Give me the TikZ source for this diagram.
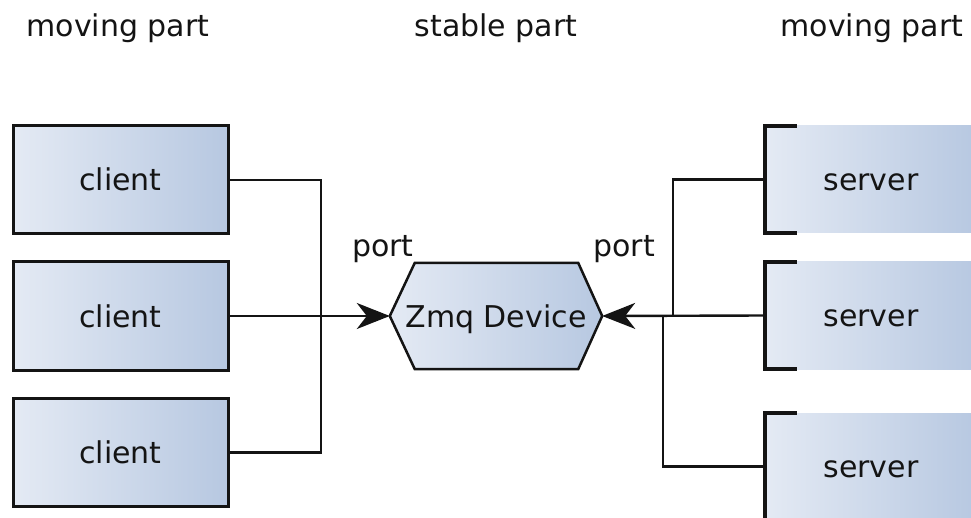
\documentclass[tikz,border=0pt]{standalone}
\usepackage{fontspec}
\setmainfont{DejaVu Sans}
\usetikzlibrary{arrows.meta,calc}
\definecolor{boxlight}{RGB}{228,234,244}
\definecolor{boxdark}{RGB}{183,200,225}
\definecolor{ink}{RGB}{20,20,20}
\begin{document}
\begin{tikzpicture}[x=1pt,y=-1pt,
  every node/.style={font=\fontsize{30}{35}\selectfont, text=ink},
  lbl/.style={anchor=base, inner sep=0pt},
  clientbox/.style={draw=ink, line width=3pt, left color=boxlight, right color=boxdark,
     minimum width=215pt, minimum height=108pt, inner sep=0pt, text height=22pt, text depth=0pt},
  serverbox/.style={left color=boxlight, right color=boxdark,
     minimum width=212pt, minimum height=107pt, inner sep=0pt, text height=22pt, text depth=0pt},
  devbox/.style={minimum width=212pt, minimum height=106pt, inner sep=0pt, text height=22pt, text depth=0pt},
  bracket/.style={draw=ink, line width=4.5pt, line cap=rect},
  hexline/.style={draw=ink, line width=2.5pt, left color=boxlight, right color=boxdark},
  conn/.style={draw=ink, line width=2.4pt},
  arr/.style={conn, -{Stealth[length=33pt, width=26pt, inset=10pt]}}
]
\useasboundingbox (0,0) rectangle (971,518);

% headers
\node[lbl] (h1) at (118,37) {moving part};
\node[lbl] (h2) at (496,37) {stable part};
\node[lbl] (h3) at (872,37) {moving part};

% clients
\node[clientbox] (c1) at (120.5,180) {client};
\node[clientbox] (c2) at (120.5,316) {client};
\node[clientbox] (c3) at (120.5,452.5) {client};

% servers
\node[serverbox] (s1) at (871,179.5) {server};
\node[serverbox] (s2) at (871,315.5) {server};
\node[serverbox] (s3) at (871,466.5) {server};
\foreach \s in {s1,s2,s3}{
  \draw[bracket] ($(\s.north west)+(30,0)$) -- (\s.north west) -- (\s.south west) -- ($(\s.south west)+(30,0)$);
}

% device
\node[devbox] (dev) at (496,316) {};
\path[hexline] (dev.west) -- ($(dev.north west)+(25,0)$) -- ($(dev.north east)+(-24,0)$) -- (dev.east)
   -- ($(dev.south east)+(-24,0)$) -- ($(dev.south west)+(25,0)$) -- cycle;
\node[devbox] (devtext) at (dev.center) {Zmq Device};

% port labels
\node[lbl] (p1) at (383,257) {port};
\node[lbl] (p2) at (624,257) {port};

% junctions
\coordinate (jl) at (321,316);
\coordinate (jr1) at (673,316);
\coordinate (jr3) at (663,316);

% connectors
\draw[conn] (c1.east) -| (jl);
\draw[conn] (c3.east) -| (jl);
\draw[arr] (c2.east) -- (dev.west);
\draw[conn] (s1.west) -| (jr1);
\draw[conn] (s3.west) -| (jr3);
\draw[arr] (s2.west) -- (dev.east);
\end{tikzpicture}
\end{document}
